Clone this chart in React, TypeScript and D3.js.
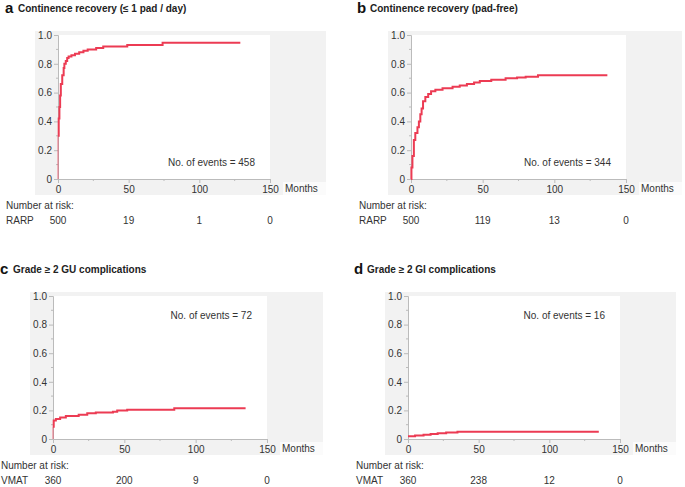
import React, { useEffect, useRef } from "react";
import * as d3 from "d3";

// step curves: [months, cumulative incidence]
const curveA: [number, number][] = [
  [0, 0], [0, 0.3], [0.5, 0.42], [1, 0.5], [1.5, 0.58], [2, 0.66], [3, 0.72],
  [4, 0.77], [4.5, 0.8], [5.5, 0.82], [6.5, 0.84], [7.5, 0.85], [9.5, 0.86],
  [12, 0.87], [15, 0.88], [18, 0.89], [21, 0.9], [27, 0.91], [32, 0.92],
  [49, 0.93], [74, 0.947], [129, 0.947],
];
const curveB: [number, number][] = [
  [0, 0], [0.3, 0.08], [1, 0.16], [2, 0.27], [3, 0.32], [4.5, 0.36], [5.5, 0.4],
  [6.5, 0.45], [7.4, 0.49], [8.4, 0.54], [10, 0.57], [12, 0.59], [14, 0.61],
  [17, 0.62], [22, 0.63], [29, 0.64], [34, 0.65], [39, 0.66], [44, 0.67],
  [48, 0.68], [56, 0.69], [66, 0.7], [74, 0.705], [80, 0.71], [88.6, 0.72],
  [137, 0.72],
];
const curveC: [number, number][] = [
  [0, 0], [0, 0.085], [0.5, 0.13], [2, 0.14], [5, 0.15], [9, 0.16], [18, 0.17],
  [24, 0.18], [30, 0.185], [42, 0.19], [45, 0.2], [52, 0.205], [85, 0.215],
  [135, 0.215],
];
const curveD: [number, number][] = [
  [0, 0.02], [5, 0.025], [11, 0.03], [16, 0.035], [21, 0.04], [27, 0.045],
  [35, 0.05], [135, 0.05],
];

const riskTimes = [0, 50, 100, 150];
const riskA = [500, 19, 1, 0];
const riskB = [500, 119, 13, 0];
const riskC = [360, 200, 9, 0];
const riskD = [360, 238, 12, 0];

const letters = ["a", "b", "c", "d"];
const titles = [
  "Continence recovery (≤ 1 pad / day)",
  "Continence recovery (pad-free)",
  "Grade ≥ 2 GU complications",
  "Grade ≥ 2 GI complications",
];
const groups = ["RARP", "RARP", "VMAT", "VMAT"];
const events = [458, 344, 72, 16];

const panels = [
  { left: 58, right: 270, top: 35, bottom: 179, curve: curveA, risk: riskA, evTop: false },
  { left: 411, right: 626, top: 35, bottom: 179, curve: curveB, risk: riskB, evTop: false },
  { left: 53, right: 267, top: 296, bottom: 439, curve: curveC, risk: riskC, evTop: true },
  { left: 408, right: 620, top: 296, bottom: 439, curve: curveD, risk: riskD, evTop: true },
];

const FONT = "'Liberation Sans', Arial, sans-serif";
const RED = "#ec3b53";

export default function App() {
  const ref = useRef<SVGSVGElement>(null);

  useEffect(() => {
    document.body.style.margin = "0";
    const svg = d3.select(ref.current);
    svg.selectAll("*").remove();

    panels.forEach((p, i) => {
      const x = d3.scaleLinear().domain([0, 150]).range([p.left, p.right]);
      const y = d3.scaleLinear().domain([0, 1]).range([p.bottom, p.top]);
      const g = svg.append("g").style("font-family", FONT);
      const textX = i % 2 ? p.left - 54 : p.left - 53;

      // grey frame and white plot area
      g.append("rect")
        .attr("x", p.left - 23).attr("y", p.top - 4)
        .attr("width", p.right - p.left + 79).attr("height", p.bottom - p.top + 20)
        .attr("fill", "#f2f2f2");
      g.append("rect")
        .attr("x", p.left).attr("y", p.top)
        .attr("width", p.right - p.left).attr("height", p.bottom - p.top)
        .attr("fill", "#fff");
      g.append("rect")
        .attr("x", p.right + 13).attr("y", p.bottom + 3)
        .attr("width", 43).attr("height", 13)
        .attr("fill", "#fbfbfb");

      // title
      g.append("text")
        .attr("x", textX).attr("y", p.top - 22)
        .attr("font-size", 15).attr("font-weight", "bold").attr("fill", "#111")
        .text(letters[i]);
      g.append("text")
        .attr("x", textX + 13).attr("y", p.top - 23)
        .attr("font-size", 10).attr("font-weight", "bold").attr("fill", "#222")
        .text(titles[i]);

      // y axis
      const yAxis = d3.axisLeft(y).tickValues([0, 0.2, 0.4, 0.6, 0.8, 1])
        .tickFormat((d) => (+d === 0 ? "0" : d3.format(".1f")(+d)))
        .tickSize(4).tickPadding(2);
      const ya = g.append("g").attr("transform", `translate(${p.left},0)`).call(yAxis);
      [0.1, 0.3, 0.5, 0.7, 0.9].forEach((v) => {
        ya.append("line").attr("x1", -2).attr("x2", 0)
          .attr("y1", y(v)).attr("y2", y(v)).attr("stroke", "#bbb");
      });

      // x axis
      const xAxis = d3.axisBottom(x).tickValues([0, 50, 100, 150])
        .tickSize(4).tickPadding(3);
      const xa = g.append("g").attr("transform", `translate(0,${p.bottom})`).call(xAxis);
      [25, 75, 125].forEach((v) => {
        xa.append("line").attr("x1", x(v)).attr("x2", x(v))
          .attr("y1", 0).attr("y2", 2).attr("stroke", "#bbb");
      });
      [ya, xa].forEach((a) => {
        a.select(".domain").attr("stroke", "#bbb");
        a.selectAll(".tick line").attr("stroke", "#bbb");
        a.selectAll(".tick text").attr("fill", "#333").style("font-size", "10px")
          .style("font-family", FONT);
      });

      g.append("text")
        .attr("x", p.right + 15).attr("y", p.bottom + 13)
        .attr("font-size", 10).attr("fill", "#333").text("Months");

      // curve; the jump at time 0 is drawn thin like in the original
      const line = d3.line<[number, number]>()
        .x((d) => x(d[0])).y((d) => y(d[1]))
        .curve(d3.curveStepAfter);
      let pts = p.curve;
      if (pts.length > 1 && pts[0][0] === 0 && pts[1][0] === 0) {
        g.append("path")
          .datum(pts.slice(0, 2))
          .attr("d", line)
          .attr("fill", "none")
          .attr("stroke", RED)
          .attr("stroke-opacity", 0.7)
          .attr("stroke-width", 1);
        pts = pts.slice(1);
      }
      g.append("path")
        .datum(pts)
        .attr("d", line)
        .attr("fill", "none")
        .attr("stroke", RED)
        .attr("stroke-width", 2);

      // events label
      g.append("text")
        .attr("x", p.right - 15)
        .attr("y", p.evTop ? p.top + 23 : p.bottom - 13)
        .attr("text-anchor", "end")
        .attr("font-size", 10).attr("fill", "#333")
        .text(`No. of events = ${events[i]}`);

      // number at risk
      g.append("text")
        .attr("x", p.left - 52).attr("y", p.bottom + 30)
        .attr("font-size", 10).attr("fill", "#333").text("Number at risk:");
      g.append("text")
        .attr("x", p.left - 52).attr("y", p.bottom + 45)
        .attr("font-size", 10).attr("fill", "#333").text(groups[i]);
      g.selectAll("text.risk")
        .data(p.risk)
        .join("text")
        .attr("class", "risk")
        .attr("x", (_, j) => x(riskTimes[j]))
        .attr("y", p.bottom + 45)
        .attr("text-anchor", "middle")
        .attr("font-size", 10).attr("fill", "#333")
        .text((d) => d);
    });
  }, []);

  return <svg ref={ref} width={685} height={487} style={{ display: "block", background: "#fff" }} />;
}
